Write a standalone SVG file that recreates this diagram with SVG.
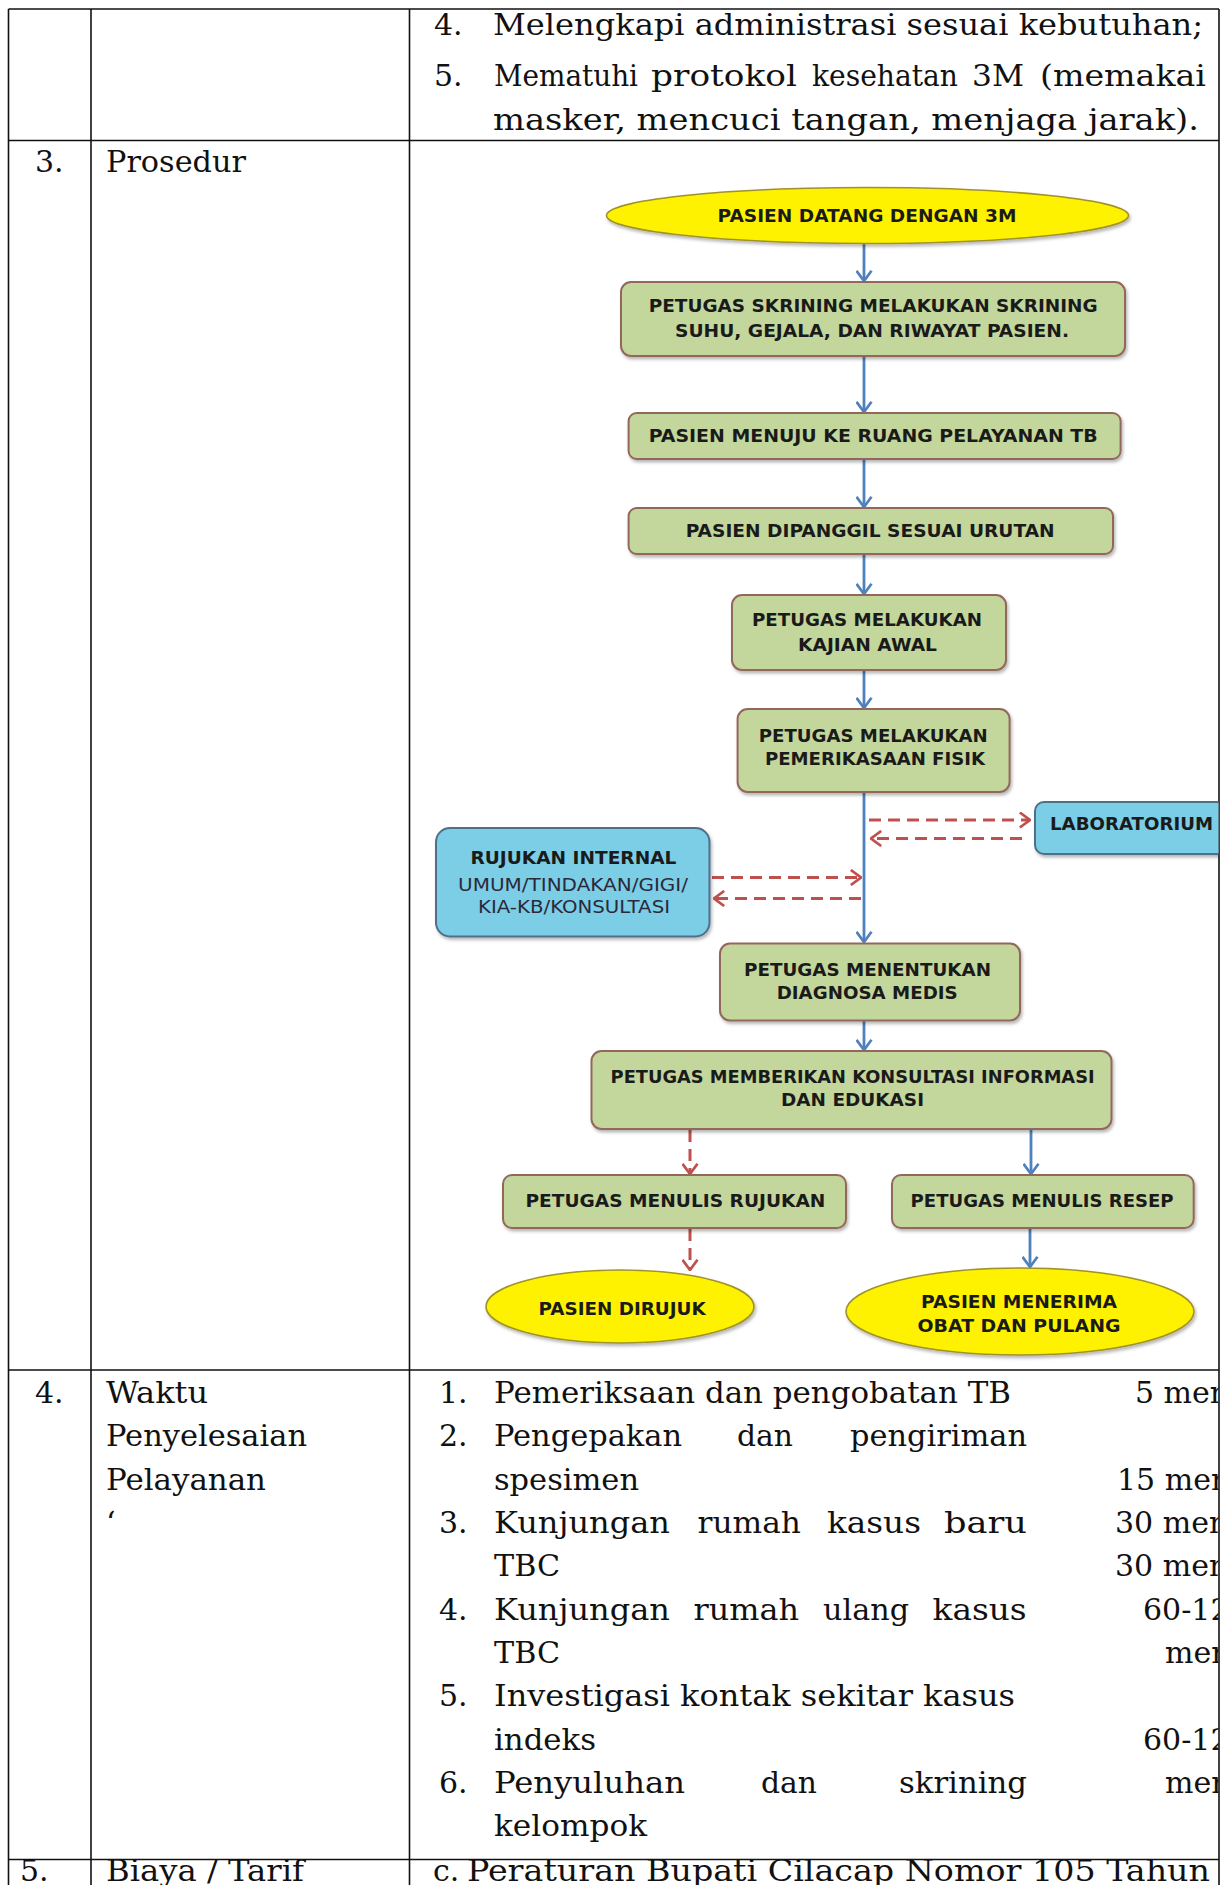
<svg xmlns="http://www.w3.org/2000/svg" width="1230" height="1885" viewBox="0 0 1230 1885">
<defs>
<style>
.tb{font-family:"DejaVu Serif","Liberation Serif",serif;font-size:30px;fill:#111}
.fc{font-family:"DejaVu Sans","Liberation Sans",sans-serif;font-size:18px;font-weight:bold;fill:#1a1a1a}
.fr{font-family:"DejaVu Sans","Liberation Sans",sans-serif;font-size:17px;fill:#2a2a3a}
.grid{stroke:#111;stroke-width:1.6;fill:none}
.green{fill:#C3D69B;stroke:#93685C;stroke-width:2;filter:url(#sh)}
.blue{fill:#7BCDE6;stroke:#4F6F8A;stroke-width:2;filter:url(#sh)}
.yel{fill:#FFF200;stroke:#A0922A;stroke-width:1.6;filter:url(#sh)}
.ba{stroke:#4F81BD;stroke-width:2.8;fill:none;marker-end:url(#mb)}
.ra{stroke:#C0504D;stroke-width:3;fill:none;stroke-dasharray:12 7;marker-end:url(#mr)}
</style>
<filter id="sh" x="-10%" y="-10%" width="120%" height="130%">
<feDropShadow dx="1.5" dy="2.5" stdDeviation="1.5" flood-color="#000" flood-opacity="0.28"/>
</filter>
<marker id="mb" viewBox="0 0 12 17" refX="11" refY="8.5" markerWidth="12" markerHeight="17" markerUnits="userSpaceOnUse" orient="auto">
<path d="M0.8,1 L11,8.5 L0.8,16" fill="none" stroke="#4F81BD" stroke-width="2.7"/>
</marker>
<marker id="mr" viewBox="0 0 12 17" refX="11" refY="8.5" markerWidth="12" markerHeight="17" markerUnits="userSpaceOnUse" orient="auto">
<path d="M0.8,1 L11,8.5 L0.8,16" fill="none" stroke="#C0504D" stroke-width="2.7"/>
</marker>
<clipPath id="cl"><rect x="0" y="0" width="1218.5" height="1885"/></clipPath>
</defs>
<rect x="0" y="0" width="1230" height="1885" fill="#fff"/>

<g id="table">
<line class="grid" x1="8.5" y1="9" x2="1219" y2="9"/>
<line class="grid" x1="8.5" y1="140.5" x2="1219" y2="140.5"/>
<line class="grid" x1="8.5" y1="1370" x2="1219" y2="1370"/>
<line class="grid" x1="8.5" y1="1859.5" x2="1219" y2="1859.5"/>
<line class="grid" x1="8.5" y1="9" x2="8.5" y2="1885"/>
<line class="grid" x1="91" y1="9" x2="91" y2="1885"/>
<line class="grid" x1="409.5" y1="9" x2="409.5" y2="1885"/>
<line class="grid" x1="1219" y1="9" x2="1219" y2="1885"/>
</g>

<g id="row-persyaratan">
<text class="tb" x="434" y="35">4.</text>
<text class="tb" x="493" y="35" textLength="710" lengthAdjust="spacingAndGlyphs">Melengkapi administrasi sesuai kebutuhan;</text>
<text class="tb" x="434" y="86">5.</text>
<text class="tb" x="494" y="86" textLength="144" lengthAdjust="spacingAndGlyphs">Mematuhi</text>
<text class="tb" x="651" y="86" textLength="146" lengthAdjust="spacingAndGlyphs">protokol</text>
<text class="tb" x="812" y="86" textLength="146" lengthAdjust="spacingAndGlyphs">kesehatan</text>
<text class="tb" x="972" y="86" textLength="52" lengthAdjust="spacingAndGlyphs">3M</text>
<text class="tb" x="1040" y="86" textLength="166" lengthAdjust="spacingAndGlyphs">(memakai</text>
<text class="tb" x="493" y="129.5" textLength="706" lengthAdjust="spacingAndGlyphs">masker, mencuci tangan, menjaga jarak).</text>
</g>

<g id="row-prosedur">
<text class="tb" x="35" y="171.5">3.</text>
<text class="tb" x="106" y="171.5" textLength="140" lengthAdjust="spacingAndGlyphs">Prosedur</text>
</g>

<g id="connectors">
<line class="ba" x1="864" y1="244" x2="864" y2="281"/>
<line class="ba" x1="864" y1="357" x2="864" y2="412"/>
<line class="ba" x1="864" y1="460" x2="864" y2="507"/>
<line class="ba" x1="864" y1="555" x2="864" y2="594"/>
<line class="ba" x1="864" y1="671" x2="864" y2="708"/>
<line class="ba" x1="864" y1="793" x2="864" y2="942"/>
<line class="ba" x1="864" y1="1021" x2="864" y2="1050"/>
<line class="ra" x1="869" y1="820" x2="1030" y2="820"/>
<line class="ra" x1="1022" y1="838.5" x2="871" y2="838.5"/>
<line class="ra" x1="712" y1="877.5" x2="861" y2="877.5"/>
<line class="ra" x1="861" y1="898.5" x2="714" y2="898.5"/>
<line class="ra" x1="690" y1="1130" x2="690" y2="1174"/>
<line class="ra" x1="690" y1="1229" x2="690" y2="1270"/>
<line class="ba" x1="1031" y1="1130" x2="1031" y2="1174"/>
<line class="ba" x1="1030" y1="1229" x2="1030" y2="1267"/>
</g>

<g id="n-datang">
<ellipse class="yel" cx="867.5" cy="215.5" rx="261" ry="28"/>
<text class="fc" x="717.5" y="221.5" textLength="299" lengthAdjust="spacingAndGlyphs">PASIEN DATANG DENGAN 3M</text>
</g>
<g id="n-skrining">
<rect class="green" x="621" y="282" width="504" height="74" rx="10"/>
<text class="fc" x="648.7" y="311.5" textLength="449" lengthAdjust="spacingAndGlyphs">PETUGAS SKRINING MELAKUKAN SKRINING</text>
<text class="fc" x="675" y="336.5" textLength="394" lengthAdjust="spacingAndGlyphs">SUHU, GEJALA, DAN RIWAYAT PASIEN.</text>
</g>
<g id="n-menuju">
<rect class="green" x="628.6" y="413" width="492" height="46" rx="8"/>
<text class="fc" x="648.7" y="441.5" textLength="449" lengthAdjust="spacingAndGlyphs">PASIEN MENUJU KE RUANG PELAYANAN TB</text>
</g>
<g id="n-dipanggil">
<rect class="green" x="628.6" y="508" width="484.4" height="46" rx="8"/>
<text class="fc" x="685.7" y="537" textLength="369" lengthAdjust="spacingAndGlyphs">PASIEN DIPANGGIL SESUAI URUTAN</text>
</g>
<g id="n-kajian">
<rect class="green" x="732" y="595" width="274" height="75" rx="10"/>
<text class="fc" x="752" y="625.5" textLength="230" lengthAdjust="spacingAndGlyphs">PETUGAS MELAKUKAN</text>
<text class="fc" x="798" y="650.5" textLength="139" lengthAdjust="spacingAndGlyphs">KAJIAN AWAL</text>
</g>
<g id="n-fisik">
<rect class="green" x="737.6" y="709" width="272" height="83" rx="10"/>
<text class="fc" x="758.7" y="741.5" textLength="229" lengthAdjust="spacingAndGlyphs">PETUGAS MELAKUKAN</text>
<text class="fc" x="765" y="764.5" textLength="220" lengthAdjust="spacingAndGlyphs">PEMERIKASAAN FISIK</text>
</g>
<g id="n-lab" clip-path="url(#cl)">
<rect class="blue" x="1035" y="802" width="210" height="52" rx="9"/>
<text class="fc" x="1050" y="829.5" textLength="163" lengthAdjust="spacingAndGlyphs">LABORATORIUM</text>
</g>
<g id="n-rujukan-internal">
<rect class="blue" x="436" y="828" width="273.5" height="108.5" rx="14"/>
<text class="fc" x="470.4" y="864" textLength="206" lengthAdjust="spacingAndGlyphs">RUJUKAN INTERNAL</text>
<text class="fr" x="458" y="891" textLength="230" lengthAdjust="spacingAndGlyphs">UMUM/TINDAKAN/GIGI/</text>
<text class="fr" x="478" y="912.5" textLength="192" lengthAdjust="spacingAndGlyphs">KIA-KB/KONSULTASI</text>
</g>
<g id="n-diagnosa">
<rect class="green" x="720" y="943.5" width="300" height="77" rx="10"/>
<text class="fc" x="744" y="975.5" textLength="247" lengthAdjust="spacingAndGlyphs">PETUGAS MENENTUKAN</text>
<text class="fc" x="776.7" y="998.5" textLength="181" lengthAdjust="spacingAndGlyphs">DIAGNOSA MEDIS</text>
</g>
<g id="n-kie">
<rect class="green" x="591.5" y="1051" width="520" height="78" rx="10"/>
<text class="fc" x="610.6" y="1082.5" textLength="484" lengthAdjust="spacingAndGlyphs">PETUGAS MEMBERIKAN KONSULTASI INFORMASI</text>
<text class="fc" x="781" y="1105.5" textLength="143" lengthAdjust="spacingAndGlyphs">DAN EDUKASI</text>
</g>
<g id="n-tulis-rujukan">
<rect class="green" x="503" y="1175" width="343" height="53" rx="9"/>
<text class="fc" x="525.4" y="1206.5" textLength="300" lengthAdjust="spacingAndGlyphs">PETUGAS MENULIS RUJUKAN</text>
</g>
<g id="n-tulis-resep">
<rect class="green" x="892" y="1175" width="301.7" height="53" rx="9"/>
<text class="fc" x="910.6" y="1206.5" textLength="263" lengthAdjust="spacingAndGlyphs">PETUGAS MENULIS RESEP</text>
</g>
<g id="n-dirujuk">
<ellipse class="yel" cx="620" cy="1306.5" rx="134" ry="36.5"/>
<text class="fc" x="538.6" y="1314.5" textLength="167" lengthAdjust="spacingAndGlyphs">PASIEN DIRUJUK</text>
</g>
<g id="n-pulang">
<ellipse class="yel" cx="1020" cy="1311.5" rx="174" ry="43.5"/>
<text class="fc" x="921" y="1308" textLength="196" lengthAdjust="spacingAndGlyphs">PASIEN MENERIMA</text>
<text class="fc" x="917.5" y="1331.5" textLength="203" lengthAdjust="spacingAndGlyphs">OBAT DAN PULANG</text>
</g>

<g id="row-waktu" clip-path="url(#cl)">
<text class="tb" x="35" y="1403">4.</text>
<text class="tb" x="106" y="1403" textLength="102" lengthAdjust="spacingAndGlyphs">Waktu</text>
<text class="tb" x="106" y="1446.3" textLength="201" lengthAdjust="spacingAndGlyphs">Penyelesaian</text>
<text class="tb" x="106" y="1489.6" textLength="160" lengthAdjust="spacingAndGlyphs">Pelayanan</text>
<text class="tb" x="106" y="1533">‘</text>

<text class="tb" x="439" y="1403">1.</text>
<text class="tb" x="494" y="1403" textLength="517" lengthAdjust="spacingAndGlyphs">Pemeriksaan dan pengobatan TB</text>
<text class="tb" x="1135" y="1403">5 men</text>

<text class="tb" x="439" y="1446.3">2.</text>
<text class="tb" x="494" y="1446.3" textLength="188" lengthAdjust="spacingAndGlyphs">Pengepakan</text>
<text class="tb" x="737" y="1446.3" textLength="56" lengthAdjust="spacingAndGlyphs">dan</text>
<text class="tb" x="850" y="1446.3" textLength="177" lengthAdjust="spacingAndGlyphs">pengiriman</text>

<text class="tb" x="494" y="1489.6" textLength="145" lengthAdjust="spacingAndGlyphs">spesimen</text>
<text class="tb" x="1117" y="1489.6">15 men</text>

<text class="tb" x="439" y="1533">3.</text>
<text class="tb" x="494" y="1533" textLength="176" lengthAdjust="spacingAndGlyphs">Kunjungan</text>
<text class="tb" x="697.5" y="1533" textLength="103.5" lengthAdjust="spacingAndGlyphs">rumah</text>
<text class="tb" x="827" y="1533" textLength="94" lengthAdjust="spacingAndGlyphs">kasus</text>
<text class="tb" x="944" y="1533" textLength="83" lengthAdjust="spacingAndGlyphs">baru</text>
<text class="tb" x="1115" y="1533">30 men</text>

<text class="tb" x="494" y="1576.3" textLength="66" lengthAdjust="spacingAndGlyphs">TBC</text>
<text class="tb" x="1115" y="1576.3">30 men</text>

<text class="tb" x="439" y="1619.6">4.</text>
<text class="tb" x="494" y="1619.6" textLength="176" lengthAdjust="spacingAndGlyphs">Kunjungan</text>
<text class="tb" x="693.6" y="1619.6" textLength="105.4" lengthAdjust="spacingAndGlyphs">rumah</text>
<text class="tb" x="823" y="1619.6" textLength="86" lengthAdjust="spacingAndGlyphs">ulang</text>
<text class="tb" x="932.6" y="1619.6" textLength="94" lengthAdjust="spacingAndGlyphs">kasus</text>
<text class="tb" x="1143" y="1619.6">60-12</text>

<text class="tb" x="494" y="1663" textLength="66" lengthAdjust="spacingAndGlyphs">TBC</text>
<text class="tb" x="1165" y="1663">men</text>

<text class="tb" x="439" y="1706.3">5.</text>
<text class="tb" x="494" y="1706.3" textLength="521" lengthAdjust="spacingAndGlyphs">Investigasi kontak sekitar kasus</text>

<text class="tb" x="494" y="1749.6" textLength="102" lengthAdjust="spacingAndGlyphs">indeks</text>
<text class="tb" x="1143" y="1749.6">60-12</text>

<text class="tb" x="439" y="1793">6.</text>
<text class="tb" x="494" y="1793" textLength="191" lengthAdjust="spacingAndGlyphs">Penyuluhan</text>
<text class="tb" x="761" y="1793" textLength="56" lengthAdjust="spacingAndGlyphs">dan</text>
<text class="tb" x="899" y="1793" textLength="128" lengthAdjust="spacingAndGlyphs">skrining</text>
<text class="tb" x="1165" y="1793">men</text>

<text class="tb" x="494" y="1836.3" textLength="153" lengthAdjust="spacingAndGlyphs">kelompok</text>
</g>

<g id="row-biaya" clip-path="url(#cl)">
<text class="tb" x="20" y="1881">5.</text>
<text class="tb" x="106" y="1881" textLength="198" lengthAdjust="spacingAndGlyphs">Biaya / Tarif</text>
<text class="tb" x="433" y="1881">c.</text>
<text class="tb" x="467" y="1881" textLength="743" lengthAdjust="spacingAndGlyphs">Peraturan Bupati Cilacap Nomor 105 Tahun</text>
</g>
</svg>
